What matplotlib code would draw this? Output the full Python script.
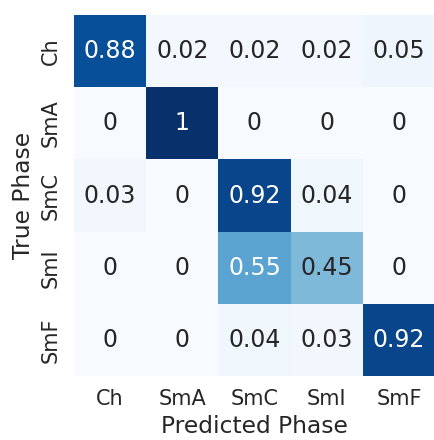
import matplotlib
matplotlib.use("Agg")
import matplotlib.pyplot as plt
import seaborn as sns
import numpy as np
import pandas as pd

phases = ["Ch", "SmA", "SmC", "SmI", "SmF"]
row_ch = [0.88, 0.02, 0.02, 0.02, 0.05]
row_sma = [0, 1, 0, 0, 0]
row_smc = [0.03, 0, 0.92, 0.04, 0]
row_smi = [0, 0, 0.55, 0.45, 0]
row_smf = [0, 0, 0.04, 0.03, 0.92]

cm = pd.DataFrame([row_ch, row_sma, row_smc, row_smi, row_smf],
                  index=phases, columns=phases)

sns.set(font_scale=1.4)

fig = plt.figure(figsize=(4.35, 4.4), dpi=100)
ax = fig.add_axes([0.170, 0.145, 0.830, 0.821])
sns.heatmap(cm, annot=True, cmap="Blues", vmin=0, vmax=1, cbar=False,
            ax=ax, annot_kws={"fontsize": 17})
ax.set_xlabel("Predicted Phase")
ax.set_ylabel("True Phase")
ax.tick_params(axis="both", labelsize=15)
ax.set_yticklabels(phases, rotation=90, va="center")
ax.set_xticklabels(phases, rotation=0)

fig.savefig("out.png", dpi=100)
